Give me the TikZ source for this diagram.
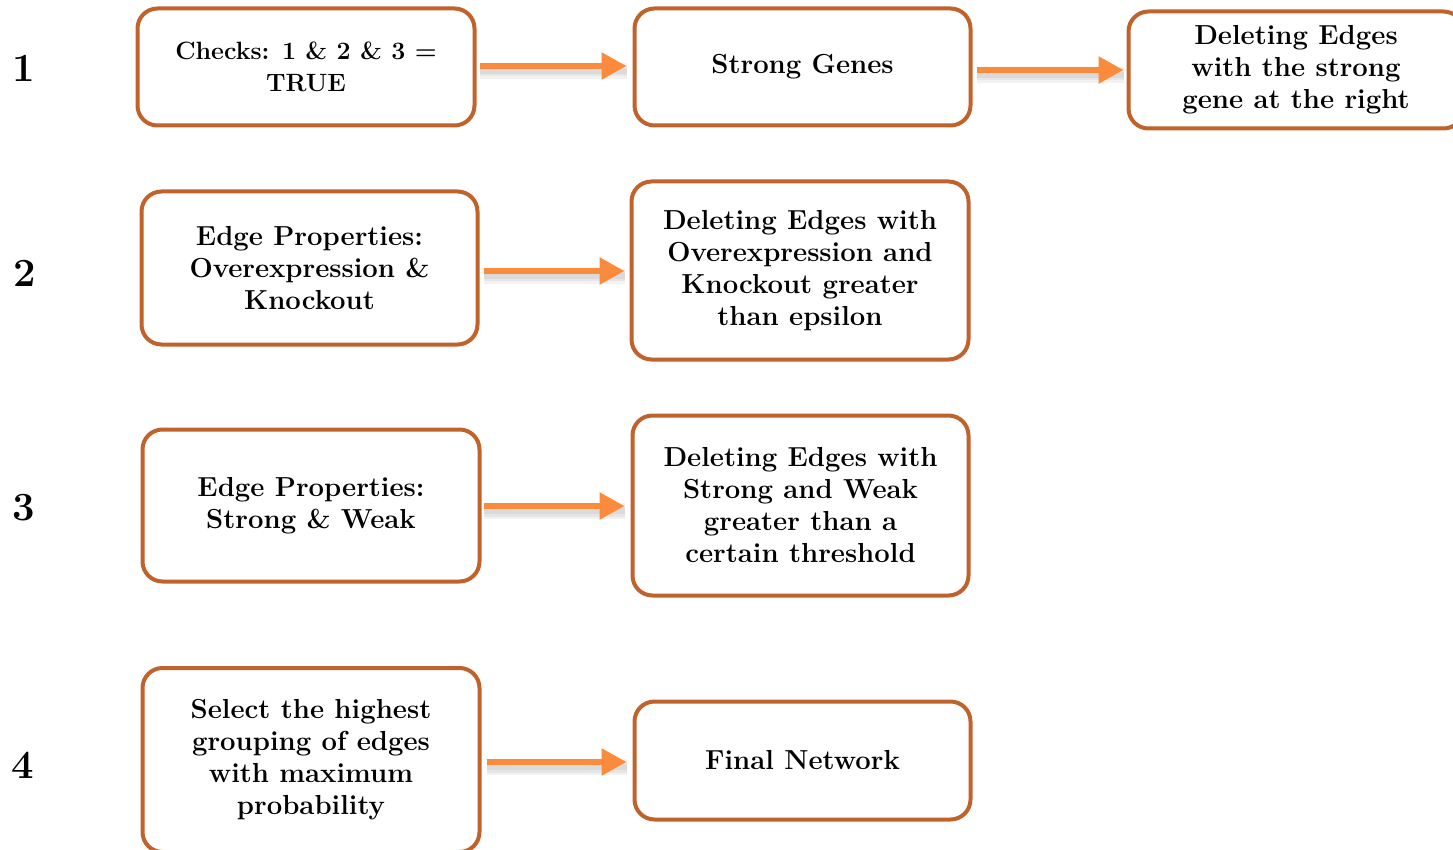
\documentclass[tikz,border=0pt]{standalone}
\usetikzlibrary{arrows.meta}
\definecolor{boxline}{HTML}{C0622B}
\definecolor{arrowfill}{HTML}{FA8A3C}
\begin{document}
\begin{tikzpicture}[x=1pt,y=-1pt,
  stage/.style={draw=boxline, line width=4pt, rounded corners=20pt, fill=white,
    align=center, inner sep=0pt, font=\fontsize{27.5}{32}\selectfont\bfseries},
  soft/.style={draw=black, opacity=0.05, line width=#1, arrows={-},
    transform canvas={yshift=-5pt}},
  flow/.style={draw=arrowfill, line width=5.5pt,
    preaction={soft=16pt}, preaction={soft=11pt}, preaction={soft=6pt},
    -{Triangle[length=25pt,width=26pt]}},
  num/.style={font=\fontsize{40}{48}\selectfont\bfseries}]
\useasboundingbox (0,0) rectangle (1453,850);
\clip (0,0) rectangle (1453,850);

% step numbers
\node[num] (n1) at (24,68) {1};
\node[num] (n2) at (25,273) {2};
\node[num] (n3) at (24,508) {3};
\node[num] (n4) at (23,765) {4};

% row 1
\node[stage, minimum width=337pt, minimum height=117pt,
  font=\fontsize{25}{32}\selectfont\bfseries] (a) at (306,67)
  {Checks: 1 \& 2 \& 3 =\\TRUE};
\node[stage, minimum width=336pt, minimum height=117pt] (b) at (802.5,67)
  {Strong Genes};
\node[stage, minimum width=335pt, minimum height=117pt] (c) at (1296,70)
  {Deleting Edges\\with the strong\\gene at the right};

% row 2
\node[stage, minimum width=336pt, minimum height=153pt] (d) at (309.5,268)
  {Edge Properties:\\Overexpression \&\\Knockout};
\node[stage, minimum width=337pt, minimum height=178pt] (e) at (800,270.5)
  {Deleting Edges with\\Overexpression and\\Knockout greater\\than epsilon};

% row 3
\node[stage, minimum width=337pt, minimum height=152pt] (f) at (311,505.5)
  {Edge Properties:\\Strong \& Weak};
\node[stage, minimum width=336pt, minimum height=180pt] (g) at (800.5,505.5)
  {Deleting Edges with\\Strong and Weak\\greater than a\\certain threshold};

% row 4
\node[stage, minimum width=337pt, minimum height=184pt] (h) at (311,760)
  {Select the highest\\grouping of edges\\with maximum\\probability};
\node[stage, minimum width=336pt, minimum height=118pt] (i) at (802.5,760.5)
  {Final Network};

% connectors
\draw[flow, shorten <=3pt, shorten >=6pt] (a.east |- 0,66) -- (b.west |- 0,66);
\draw[flow, shorten <=4pt, shorten >=3pt] (b.east |- c.west) -- (c.west);
\draw[flow, shorten <=4pt, shorten >=5pt] (d.east |- 0,271) -- (e.west |- 0,271);
\draw[flow, shorten <=2pt, shorten >=6pt] (f.east |- 0,506) -- (g.west |- 0,506);
\draw[flow, shorten <=5pt, shorten >=6pt] (h.east |- 0,762) -- (i.west |- 0,762);
\end{tikzpicture}
\end{document}
